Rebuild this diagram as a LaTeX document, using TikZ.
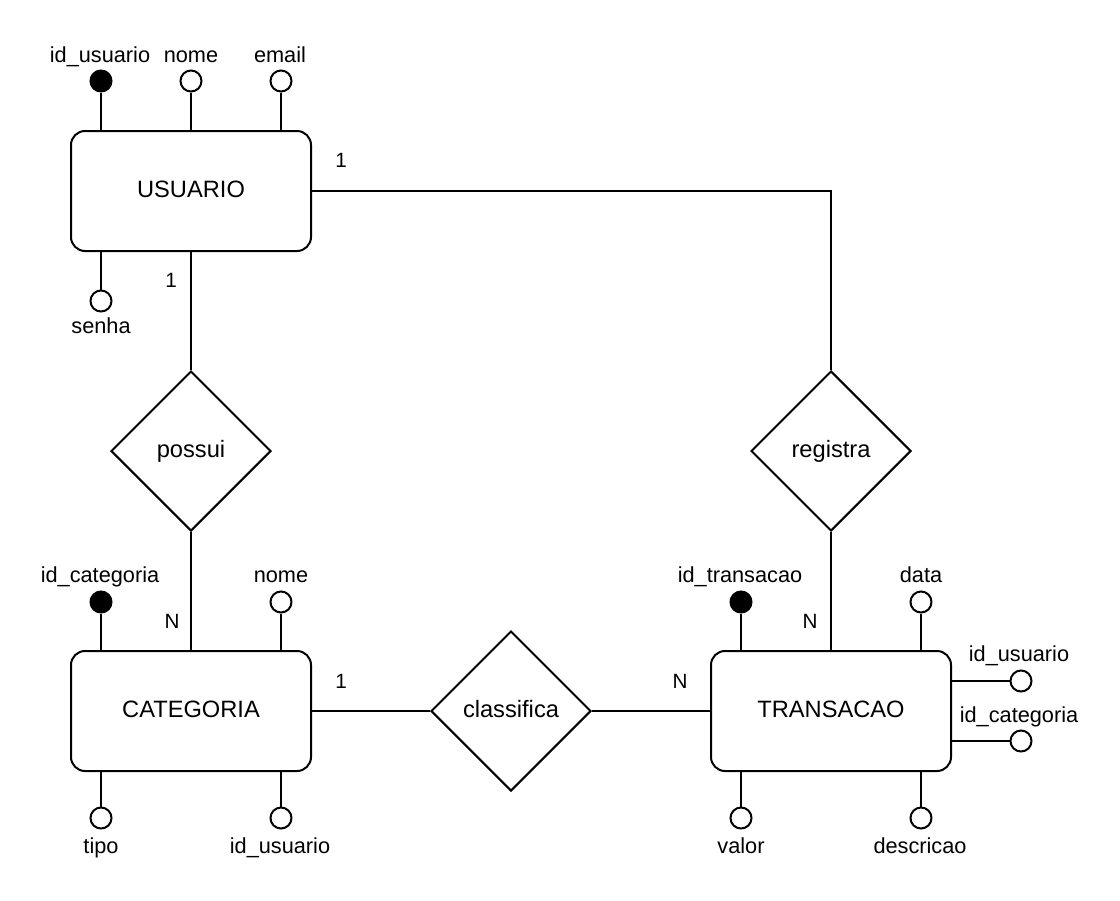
\documentclass[tikz,border=0pt]{standalone}
\usepackage{fontspec}
\setmainfont{Liberation Sans}
\usetikzlibrary{shapes.geometric}
\begin{document}
\begin{tikzpicture}[x=0.75pt,y=-0.75pt, line width=1.5pt,
  entity/.style={draw, rounded corners=10.5pt, minimum width=180pt, minimum height=90pt,
    inner sep=0pt, text height=9pt, text depth=0pt, font=\fontsize{17.75}{20}\selectfont},
  rel/.style={draw, diamond, minimum width=120pt, minimum height=120pt, inner sep=0pt,
    text height=9pt, text depth=0pt, font=\fontsize{17.75}{20}\selectfont},
  attr/.style={draw, circle, fill=white, minimum size=15.75pt, inner sep=0pt},
  keyattr/.style={attr, fill=black},
  lbl/.style={inner sep=0pt, anchor=base, font=\fontsize{16.3}{18}\selectfont},
  card/.style={inner sep=0pt, anchor=base, font=\fontsize{15.5}{18}\selectfont}]
\useasboundingbox (0,0) rectangle (1120,900);

% entities and relationships
\node[entity] (usu) at (191,191) {USUARIO};
\node[entity] (cat) at (191,711) {CATEGORIA};
\node[entity] (tra) at (831,711) {TRANSACAO};
\node[rel] (pos) at (191,451) {possui};
\node[rel] (reg) at (831,451) {registra};
\node[rel] (cla) at (511,711) {classifica};

% relationship connectors
\draw (usu.south) -- (pos.north);
\draw (pos.south) -- (cat.north);
\draw (cat.east) -- (cla.west);
\draw (cla.east) -- (tra.west);
\draw (usu.east) -| (reg.north);
\draw (reg.south) -- (tra.north);

% cardinalities
\node[card] (c1) at (341,167) {1};
\node[card] (c2) at (171,287) {1};
\node[card] (c3) at (172,628) {N};
\node[card] (c4) at (341,688) {1};
\node[card] (c5) at (680,688) {N};
\node[card] (c6) at (810,628) {N};

% USUARIO attributes
\node[keyattr] (u1) at (101,81) {};
\node[attr] (u2) at (191,81) {};
\node[attr] (u3) at (281,81) {};
\node[attr] (u4) at (101,301) {};
\draw (u1) -- (u1 |- usu.north);
\draw (u2) -- (u2 |- usu.north);
\draw (u3) -- (u3 |- usu.north);
\draw (u4) -- (u4 |- usu.south);
\node[lbl] (lu1) at (100,62) {id\_usuario};
\node[lbl] (lu2) at (191,62) {nome};
\node[lbl] (lu3) at (280,62) {email};
\node[lbl] (lu4) at (101,333) {senha};

% CATEGORIA attributes
\node[keyattr] (k1) at (101,602) {};
\node[attr] (k2) at (281,602) {};
\node[attr] (k3) at (101,818) {};
\node[attr] (k4) at (281,818) {};
\draw (k1) -- (k1 |- cat.north);
\draw (k2) -- (k2 |- cat.north);
\draw (k3) -- (k3 |- cat.south);
\draw (k4) -- (k4 |- cat.south);
\node[lbl] (lk1) at (100,582) {id\_categoria};
\node[lbl] (lk2) at (281,582) {nome};
\node[lbl] (lk3) at (101,853) {tipo};
\node[lbl] (lk4) at (280,853) {id\_usuario};

% TRANSACAO attributes
\node[keyattr] (t1) at (741,602) {};
\node[attr] (t2) at (921,602) {};
\node[attr] (t3) at (741,818) {};
\node[attr] (t4) at (921,818) {};
\node[attr] (t5) at (1021,681) {};
\node[attr] (t6) at (1021,741) {};
\draw (t1) -- (t1 |- tra.north);
\draw (t2) -- (t2 |- tra.north);
\draw (t3) -- (t3 |- tra.south);
\draw (t4) -- (t4 |- tra.south);
\draw (t5) -- (t5 -| tra.east);
\draw (t6) -- (t6 -| tra.east);
\node[lbl] (lt1) at (740,582) {id\_transacao};
\node[lbl] (lt2) at (921,582) {data};
\node[lbl] (lt3) at (741,853) {valor};
\node[lbl] (lt4) at (920,853) {descricao};
\node[lbl] (lt5) at (1019,661) {id\_usuario};
\node[lbl] (lt6) at (1019,722) {id\_categoria};
\end{tikzpicture}
\end{document}
